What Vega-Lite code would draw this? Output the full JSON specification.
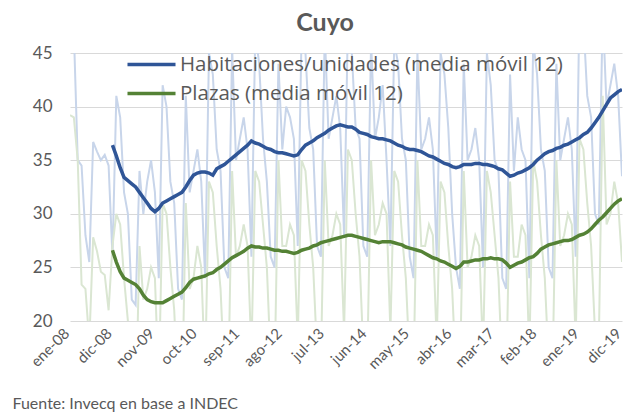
{
"$schema": "https://vega.github.io/schema/vega-lite/v6.json",
"width": 552, "height": 268,
"autosize": {"type": "none"},
"padding": {"left": 70, "top": 53, "right": 6, "bottom": 93},
"title": {"text": "Cuyo", "fontSize": 25, "fontWeight": "bold", "color": "#595959", "font": "Lato", "anchor": "middle", "frame": "group", "offset": 8, "dx": -21},
"data": {"values": [
{"mes":"ene-08","hab":48,"plz":39.2,"hab_mm":null,"plz_mm":null},
{"mes":"feb-08","hab":47,"plz":39,"hab_mm":null,"plz_mm":null},
{"mes":"mar-08","hab":35,"plz":35,"hab_mm":null,"plz_mm":null},
{"mes":"abr-08","hab":34.5,"plz":23.4,"hab_mm":null,"plz_mm":null},
{"mes":"may-08","hab":28,"plz":23,"hab_mm":null,"plz_mm":null},
{"mes":"jun-08","hab":25.5,"plz":18,"hab_mm":null,"plz_mm":null},
{"mes":"jul-08","hab":36.7,"plz":27.8,"hab_mm":null,"plz_mm":null},
{"mes":"ago-08","hab":35.8,"plz":26.5,"hab_mm":null,"plz_mm":null},
{"mes":"sep-08","hab":35,"plz":24.6,"hab_mm":null,"plz_mm":null},
{"mes":"oct-08","hab":35.5,"plz":24.3,"hab_mm":null,"plz_mm":null},
{"mes":"nov-08","hab":34.5,"plz":21,"hab_mm":null,"plz_mm":null},
{"mes":"dic-08","hab":26,"plz":27,"hab_mm":36.4,"plz_mm":26.6},
{"mes":"ene-09","hab":41,"plz":30,"hab_mm":35.4,"plz_mm":25.5},
{"mes":"feb-09","hab":39,"plz":29,"hab_mm":34.3,"plz_mm":24.6},
{"mes":"mar-09","hab":32,"plz":24,"hab_mm":33.4,"plz_mm":24.0},
{"mes":"abr-09","hab":30,"plz":20,"hab_mm":33.1,"plz_mm":23.8},
{"mes":"may-09","hab":22,"plz":12,"hab_mm":32.8,"plz_mm":23.6},
{"mes":"jun-09","hab":21.5,"plz":11,"hab_mm":32.5,"plz_mm":23.4},
{"mes":"jul-09","hab":34,"plz":27,"hab_mm":32.0,"plz_mm":23.0},
{"mes":"ago-09","hab":30,"plz":22,"hab_mm":31.5,"plz_mm":22.4},
{"mes":"sep-09","hab":33,"plz":23,"hab_mm":31.0,"plz_mm":22.0},
{"mes":"oct-09","hab":35,"plz":25,"hab_mm":30.5,"plz_mm":21.8},
{"mes":"nov-09","hab":32,"plz":24,"hab_mm":30.2,"plz_mm":21.7},
{"mes":"dic-09","hab":24,"plz":14,"hab_mm":30.5,"plz_mm":21.7},
{"mes":"ene-10","hab":42,"plz":31,"hab_mm":31.0,"plz_mm":21.7},
{"mes":"feb-10","hab":40,"plz":30,"hab_mm":31.2,"plz_mm":21.9},
{"mes":"mar-10","hab":33,"plz":25,"hab_mm":31.4,"plz_mm":22.1},
{"mes":"abr-10","hab":31,"plz":21,"hab_mm":31.6,"plz_mm":22.3},
{"mes":"may-10","hab":23,"plz":13,"hab_mm":31.8,"plz_mm":22.5},
{"mes":"jun-10","hab":22,"plz":12,"hab_mm":32.0,"plz_mm":22.7},
{"mes":"jul-10","hab":41,"plz":31,"hab_mm":32.5,"plz_mm":23.1},
{"mes":"ago-10","hab":32,"plz":23,"hab_mm":33.1,"plz_mm":23.6},
{"mes":"sep-10","hab":34,"plz":24,"hab_mm":33.6,"plz_mm":23.9},
{"mes":"oct-10","hab":36,"plz":27,"hab_mm":33.8,"plz_mm":24.0},
{"mes":"nov-10","hab":33,"plz":25,"hab_mm":33.9,"plz_mm":24.1},
{"mes":"dic-10","hab":24,"plz":15,"hab_mm":33.9,"plz_mm":24.2},
{"mes":"ene-11","hab":45,"plz":33,"hab_mm":33.8,"plz_mm":24.4},
{"mes":"feb-11","hab":43,"plz":32,"hab_mm":33.6,"plz_mm":24.5},
{"mes":"mar-11","hab":36,"plz":27,"hab_mm":34.2,"plz_mm":24.8},
{"mes":"abr-11","hab":34,"plz":23,"hab_mm":34.4,"plz_mm":25.0},
{"mes":"may-11","hab":25,"plz":15,"hab_mm":34.6,"plz_mm":25.3},
{"mes":"jun-11","hab":24,"plz":14,"hab_mm":34.9,"plz_mm":25.6},
{"mes":"jul-11","hab":45.5,"plz":34,"hab_mm":35.2,"plz_mm":25.9},
{"mes":"ago-11","hab":35,"plz":26,"hab_mm":35.5,"plz_mm":26.1},
{"mes":"sep-11","hab":37,"plz":27,"hab_mm":35.8,"plz_mm":26.3},
{"mes":"oct-11","hab":39,"plz":29,"hab_mm":36.1,"plz_mm":26.5},
{"mes":"nov-11","hab":36,"plz":27,"hab_mm":36.4,"plz_mm":26.8},
{"mes":"dic-11","hab":26,"plz":17,"hab_mm":36.8,"plz_mm":27.0},
{"mes":"ene-12","hab":47,"plz":34,"hab_mm":36.6,"plz_mm":26.9},
{"mes":"feb-12","hab":44,"plz":33,"hab_mm":36.5,"plz_mm":26.9},
{"mes":"mar-12","hab":37,"plz":29,"hab_mm":36.3,"plz_mm":26.8},
{"mes":"abr-12","hab":33,"plz":25,"hab_mm":36.1,"plz_mm":26.8},
{"mes":"may-12","hab":26,"plz":16,"hab_mm":36.0,"plz_mm":26.7},
{"mes":"jun-12","hab":25,"plz":15,"hab_mm":35.8,"plz_mm":26.6},
{"mes":"jul-12","hab":44,"plz":35,"hab_mm":35.7,"plz_mm":26.6},
{"mes":"ago-12","hab":36,"plz":27,"hab_mm":35.7,"plz_mm":26.5},
{"mes":"sep-12","hab":40,"plz":27,"hab_mm":35.6,"plz_mm":26.5},
{"mes":"oct-12","hab":39,"plz":29,"hab_mm":35.5,"plz_mm":26.4},
{"mes":"nov-12","hab":37,"plz":28,"hab_mm":35.4,"plz_mm":26.3},
{"mes":"dic-12","hab":27,"plz":18,"hab_mm":35.5,"plz_mm":26.4},
{"mes":"ene-13","hab":47,"plz":35,"hab_mm":36.0,"plz_mm":26.6},
{"mes":"feb-13","hab":45,"plz":34,"hab_mm":36.4,"plz_mm":26.7},
{"mes":"mar-13","hab":38,"plz":29,"hab_mm":36.6,"plz_mm":26.8},
{"mes":"abr-13","hab":36,"plz":25,"hab_mm":36.8,"plz_mm":27.0},
{"mes":"may-13","hab":27,"plz":17,"hab_mm":37.1,"plz_mm":27.1},
{"mes":"jun-13","hab":26,"plz":16,"hab_mm":37.3,"plz_mm":27.3},
{"mes":"jul-13","hab":47,"plz":35,"hab_mm":37.5,"plz_mm":27.4},
{"mes":"ago-13","hab":37,"plz":27,"hab_mm":37.8,"plz_mm":27.5},
{"mes":"sep-13","hab":39,"plz":28,"hab_mm":38.0,"plz_mm":27.6},
{"mes":"oct-13","hab":41,"plz":30,"hab_mm":38.2,"plz_mm":27.7},
{"mes":"nov-13","hab":38,"plz":29,"hab_mm":38.3,"plz_mm":27.8},
{"mes":"dic-13","hab":28,"plz":19,"hab_mm":38.2,"plz_mm":27.9},
{"mes":"ene-14","hab":48,"plz":36,"hab_mm":38.1,"plz_mm":28.0},
{"mes":"feb-14","hab":45,"plz":35,"hab_mm":38.1,"plz_mm":28.0},
{"mes":"mar-14","hab":38,"plz":30,"hab_mm":37.9,"plz_mm":27.9},
{"mes":"abr-14","hab":37,"plz":26,"hab_mm":37.6,"plz_mm":27.8},
{"mes":"may-14","hab":27,"plz":17,"hab_mm":37.5,"plz_mm":27.7},
{"mes":"jun-14","hab":26,"plz":16,"hab_mm":37.4,"plz_mm":27.6},
{"mes":"jul-14","hab":46,"plz":35,"hab_mm":37.2,"plz_mm":27.5},
{"mes":"ago-14","hab":37,"plz":28,"hab_mm":37.1,"plz_mm":27.4},
{"mes":"sep-14","hab":39,"plz":29,"hab_mm":37.0,"plz_mm":27.3},
{"mes":"oct-14","hab":42,"plz":31,"hab_mm":37.0,"plz_mm":27.4},
{"mes":"nov-14","hab":35,"plz":30,"hab_mm":36.9,"plz_mm":27.4},
{"mes":"dic-14","hab":27,"plz":19,"hab_mm":36.8,"plz_mm":27.4},
{"mes":"ene-15","hab":46,"plz":34,"hab_mm":36.6,"plz_mm":27.3},
{"mes":"feb-15","hab":44,"plz":33,"hab_mm":36.4,"plz_mm":27.2},
{"mes":"mar-15","hab":37,"plz":28,"hab_mm":36.3,"plz_mm":27.1},
{"mes":"abr-15","hab":35,"plz":24,"hab_mm":36.1,"plz_mm":26.9},
{"mes":"may-15","hab":26,"plz":16,"hab_mm":36.0,"plz_mm":26.8},
{"mes":"jun-15","hab":24,"plz":15,"hab_mm":36.0,"plz_mm":26.7},
{"mes":"jul-15","hab":45,"plz":35,"hab_mm":35.9,"plz_mm":26.6},
{"mes":"ago-15","hab":36,"plz":27,"hab_mm":35.8,"plz_mm":26.5},
{"mes":"sep-15","hab":37,"plz":27,"hab_mm":35.6,"plz_mm":26.3},
{"mes":"oct-15","hab":39,"plz":29,"hab_mm":35.4,"plz_mm":26.1},
{"mes":"nov-15","hab":36,"plz":28,"hab_mm":35.3,"plz_mm":25.9},
{"mes":"dic-15","hab":26,"plz":18,"hab_mm":35.1,"plz_mm":25.8},
{"mes":"ene-16","hab":45,"plz":33,"hab_mm":34.9,"plz_mm":25.6},
{"mes":"feb-16","hab":43,"plz":32,"hab_mm":34.7,"plz_mm":25.5},
{"mes":"mar-16","hab":38,"plz":27,"hab_mm":34.6,"plz_mm":25.3},
{"mes":"abr-16","hab":30,"plz":23,"hab_mm":34.4,"plz_mm":25.1},
{"mes":"may-16","hab":25,"plz":15,"hab_mm":34.3,"plz_mm":24.9},
{"mes":"jun-16","hab":23,"plz":14,"hab_mm":34.4,"plz_mm":25.1},
{"mes":"jul-16","hab":44,"plz":34,"hab_mm":34.6,"plz_mm":25.5},
{"mes":"ago-16","hab":35,"plz":25,"hab_mm":34.6,"plz_mm":25.5},
{"mes":"sep-16","hab":36,"plz":26,"hab_mm":34.6,"plz_mm":25.6},
{"mes":"oct-16","hab":38,"plz":28,"hab_mm":34.7,"plz_mm":25.7},
{"mes":"nov-16","hab":35,"plz":27,"hab_mm":34.7,"plz_mm":25.7},
{"mes":"dic-16","hab":25,"plz":17,"hab_mm":34.6,"plz_mm":25.8},
{"mes":"ene-17","hab":45,"plz":34,"hab_mm":34.6,"plz_mm":25.8},
{"mes":"feb-17","hab":42,"plz":32,"hab_mm":34.5,"plz_mm":25.9},
{"mes":"mar-17","hab":35,"plz":28,"hab_mm":34.4,"plz_mm":25.8},
{"mes":"abr-17","hab":34,"plz":24,"hab_mm":34.2,"plz_mm":25.8},
{"mes":"may-17","hab":24,"plz":15,"hab_mm":34.1,"plz_mm":25.7},
{"mes":"jun-17","hab":23,"plz":14,"hab_mm":33.8,"plz_mm":25.4},
{"mes":"jul-17","hab":43,"plz":33,"hab_mm":33.5,"plz_mm":25.0},
{"mes":"ago-17","hab":34,"plz":26,"hab_mm":33.6,"plz_mm":25.2},
{"mes":"sep-17","hab":39,"plz":26,"hab_mm":33.8,"plz_mm":25.4},
{"mes":"oct-17","hab":36,"plz":29,"hab_mm":33.9,"plz_mm":25.5},
{"mes":"nov-17","hab":35,"plz":28,"hab_mm":34.1,"plz_mm":25.7},
{"mes":"dic-17","hab":24,"plz":17,"hab_mm":34.3,"plz_mm":25.9},
{"mes":"ene-18","hab":46,"plz":35,"hab_mm":34.6,"plz_mm":26.0},
{"mes":"feb-18","hab":43,"plz":33,"hab_mm":35.0,"plz_mm":26.3},
{"mes":"mar-18","hab":36,"plz":28,"hab_mm":35.3,"plz_mm":26.7},
{"mes":"abr-18","hab":34,"plz":24,"hab_mm":35.6,"plz_mm":26.9},
{"mes":"may-18","hab":25,"plz":16,"hab_mm":35.8,"plz_mm":27.1},
{"mes":"jun-18","hab":24,"plz":15,"hab_mm":35.9,"plz_mm":27.2},
{"mes":"jul-18","hab":44,"plz":35,"hab_mm":36.1,"plz_mm":27.3},
{"mes":"ago-18","hab":35,"plz":27,"hab_mm":36.2,"plz_mm":27.4},
{"mes":"sep-18","hab":37,"plz":28,"hab_mm":36.4,"plz_mm":27.5},
{"mes":"oct-18","hab":39,"plz":30,"hab_mm":36.5,"plz_mm":27.5},
{"mes":"nov-18","hab":36,"plz":29,"hab_mm":36.7,"plz_mm":27.6},
{"mes":"dic-18","hab":26,"plz":18,"hab_mm":36.9,"plz_mm":27.8},
{"mes":"ene-19","hab":50,"plz":37,"hab_mm":37.1,"plz_mm":28.0},
{"mes":"feb-19","hab":48,"plz":36,"hab_mm":37.4,"plz_mm":28.1},
{"mes":"mar-19","hab":41,"plz":31,"hab_mm":37.6,"plz_mm":28.3},
{"mes":"abr-19","hab":39,"plz":27,"hab_mm":38.0,"plz_mm":28.6},
{"mes":"may-19","hab":30,"plz":19,"hab_mm":38.5,"plz_mm":29.0},
{"mes":"jun-19","hab":29,"plz":18,"hab_mm":39.0,"plz_mm":29.4},
{"mes":"jul-19","hab":49,"plz":41,"hab_mm":39.6,"plz_mm":29.7},
{"mes":"ago-19","hab":40,"plz":29,"hab_mm":40.2,"plz_mm":30.1},
{"mes":"sep-19","hab":42,"plz":30,"hab_mm":40.8,"plz_mm":30.5},
{"mes":"oct-19","hab":44,"plz":33,"hab_mm":41.1,"plz_mm":30.9},
{"mes":"nov-19","hab":41,"plz":31,"hab_mm":41.4,"plz_mm":31.2},
{"mes":"dic-19","hab":33.5,"plz":25.5,"hab_mm":41.6,"plz_mm":31.4}
]},
"encoding": {
  "x": {"field": "mes", "type": "ordinal", "sort": null, "scale": {"type": "point", "padding": 0},
    "axis": {"values": ["ene-08","dic-08","nov-09","oct-10","sep-11","ago-12","jul-13","jun-14","may-15","abr-16","mar-17","feb-18","ene-19","dic-19"],
      "labelAngle": -45, "labelFontSize": 15, "labelPadding": 13, "labelBaseline": "alphabetic", "grid": false,
      "title": "Fuente: Invecq en base a INDEC", "titleAnchor": "start", "titleX": -58, "titleY": 87, "titleBaseline": "alphabetic",
      "titleFontSize": 16, "titleFontWeight": "normal", "titleColor": "#595959", "titleFont": "Lato"}}
},
"layer": [
  {"mark": {"type": "line", "color": "#c8d5ea", "strokeWidth": 2, "clip": true},
   "encoding": {"y": {"field": "hab", "type": "quantitative", "title": null, "scale": {"domain": [20, 45], "nice": false, "zero": false},
     "axis": {"values": [20, 25, 30, 35, 40, 45], "grid": true, "labelFontSize": 17, "labelPadding": 18}}}},
  {"mark": {"type": "line", "color": "#dae6d2", "strokeWidth": 2, "clip": true},
   "encoding": {"y": {"field": "plz", "type": "quantitative", "title": null}}},
  {"transform": [{"fold": ["hab_mm", "plz_mm"], "as": ["serie", "valor"]}],
   "mark": {"type": "line", "strokeWidth": 3.5, "clip": true},
   "encoding": {
     "y": {"field": "valor", "type": "quantitative", "title": null},
     "color": {"field": "serie", "type": "nominal", "scale": {"domain": ["hab_mm", "plz_mm"], "range": ["#2f5597", "#548235"]},
       "legend": {"orient": "none", "legendX": 70, "legendY": 0, "padding": 0, "title": null, "symbolType": "M-2.5,0H2.5", "symbolSize": 369,
         "symbolStrokeWidth": 3.5, "labelFontSize": 20.5, "labelColor": "#595959", "labelFont": "Open Sans", "rowPadding": 7, "labelOffset": 17, "labelLimit": 500,
         "labelExpr": "datum.label == 'hab_mm' ? 'Habitaciones/unidades (media móvil 12)' : 'Plazas (media móvil 12)'"}}}}
],
"config": {
  "view": {"stroke": null},
  "font": "Lato",
  "axis": {"labelColor": "#595959", "labelFont": "Lato", "domain": false, "ticks": false, "gridColor": "#d9d9d9", "gridWidth": 1}
}
}
